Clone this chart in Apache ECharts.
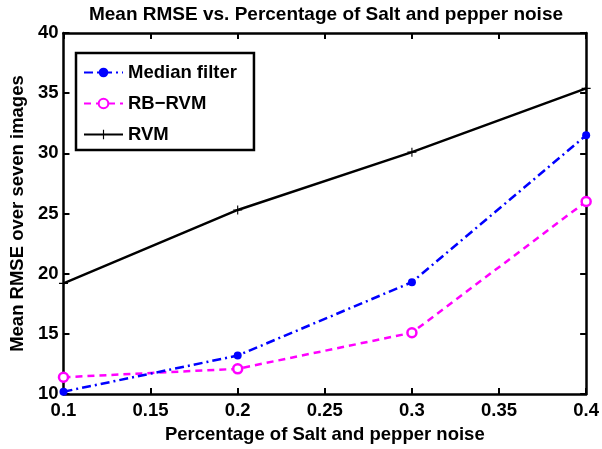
<!DOCTYPE html>
<html>
<head>
<meta charset="utf-8">
<script src="https://cdn.jsdelivr.net/npm/echarts@6/dist/echarts.min.js"></script>
<style>
  html, body { margin: 0; padding: 0; background: #fff; }
  #chart { width: 602px; height: 449px; }
</style>
</head>
<body>
<div id="chart"></div>
<script>
// Noise levels on the x axis
var noiseLevels = [0.1, 0.2, 0.3, 0.4];
// Mean RMSE per method
var medianFilter = [10.2, 13.2, 19.3, 31.5];
var rbRvm = [11.4, 12.1, 15.1, 26.0];
var rvm = [19.2, 25.3, 30.1, 35.4];

var FONT = 'Liberation Sans, Arial, Helvetica, sans-serif';

function pairs(xs, ys) {
  return xs.map(function (x, i) { return [x, ys[i]]; });
}

var plusPath = 'path://M-0.12,-1 L0.12,-1 L0.12,-0.12 L1,-0.12 L1,0.12 L0.12,0.12 L0.12,1 L-0.12,1 L-0.12,0.12 L-1,0.12 L-1,-0.12 L-0.12,-0.12 Z';

var labelStyle = { color: '#000', fontFamily: FONT, fontWeight: 'bold', fontSize: 18.5 };
var axisLine = { show: true, lineStyle: { color: '#000', width: 2.5 } };
var axisTick = { show: true, inside: true, length: 6, lineStyle: { color: '#000', width: 2 } };

var chart = echarts.init(document.getElementById('chart'), null, { renderer: 'canvas' });
chart.setOption({
  animation: false,
  backgroundColor: '#fff',
  title: {
    text: 'Mean RMSE vs. Percentage of Salt and pepper noise',
    left: 321,
    textAlign: 'center',
    top: 0,
    textStyle: { color: '#000', fontFamily: FONT, fontWeight: 'bold', fontSize: 19 }
  },
  grid: { left: 60, right: 14, top: 33, bottom: 51 },
  legend: {
    orient: 'vertical',
    left: 76,
    top: 53,
    padding: [10, 17, 6, 7],
    itemGap: 12,
    itemWidth: 39,
    itemHeight: 12,
    borderColor: '#000',
    borderWidth: 2.5,
    backgroundColor: '#fff',
    textStyle: { color: '#000', fontFamily: FONT, fontWeight: 'bold', fontSize: 18.5, lineHeight: 18 },
    data: ['Median filter', 'RB\u2212RVM', 'RVM']
  },
  xAxis: [{
    type: 'value', min: 0.1, max: 0.4, interval: 0.05, position: 'bottom',
    axisLine: axisLine,
    axisTick: axisTick,
    axisLabel: Object.assign({ margin: 7, formatter: function (v) { return String(+v.toFixed(2)); } }, labelStyle),
    splitLine: { show: false },
    name: 'Percentage of Salt and pepper noise',
    nameLocation: 'middle',
    nameGap: 29,
    nameTextStyle: labelStyle
  }, {
    type: 'value', min: 0.1, max: 0.4, interval: 0.05, position: 'top',
    axisLine: axisLine,
    axisTick: axisTick,
    axisLabel: { show: false },
    splitLine: { show: false }
  }],
  yAxis: [{
    type: 'value', min: 10, max: 40, interval: 5, position: 'left',
    axisLine: axisLine,
    axisTick: axisTick,
    axisLabel: Object.assign({ margin: 5 }, labelStyle),
    splitLine: { show: false },
    name: 'Mean RMSE over seven images',
    nameLocation: 'middle',
    nameGap: 32,
    nameTextStyle: labelStyle
  }, {
    type: 'value', min: 10, max: 40, interval: 5, position: 'right',
    axisLine: axisLine,
    axisTick: axisTick,
    axisLabel: { show: false },
    splitLine: { show: false }
  }],
  series: [{
    name: 'Median filter',
    type: 'line',
    data: pairs(noiseLevels, medianFilter),
    symbol: 'circle',
    symbolSize: 8,
    itemStyle: { color: '#0000ff' },
    lineStyle: { color: '#0000ff', width: 2.5, type: [9, 4, 2, 4] },
    z: 3
  }, {
    name: 'RB\u2212RVM',
    type: 'line',
    data: pairs(noiseLevels, rbRvm),
    symbol: 'circle',
    symbolSize: 9,
    itemStyle: { color: '#fff', borderColor: '#ff00ff', borderWidth: 2.5 },
    lineStyle: { color: '#ff00ff', width: 2.5, type: [7, 5] },
    z: 2
  }, {
    name: 'RVM',
    type: 'line',
    data: pairs(noiseLevels, rvm),
    symbol: plusPath,
    symbolSize: 9,
    itemStyle: { color: '#000' },
    lineStyle: { color: '#000', width: 2.5 },
    z: 4
  }]
});
</script>
</body>
</html>
